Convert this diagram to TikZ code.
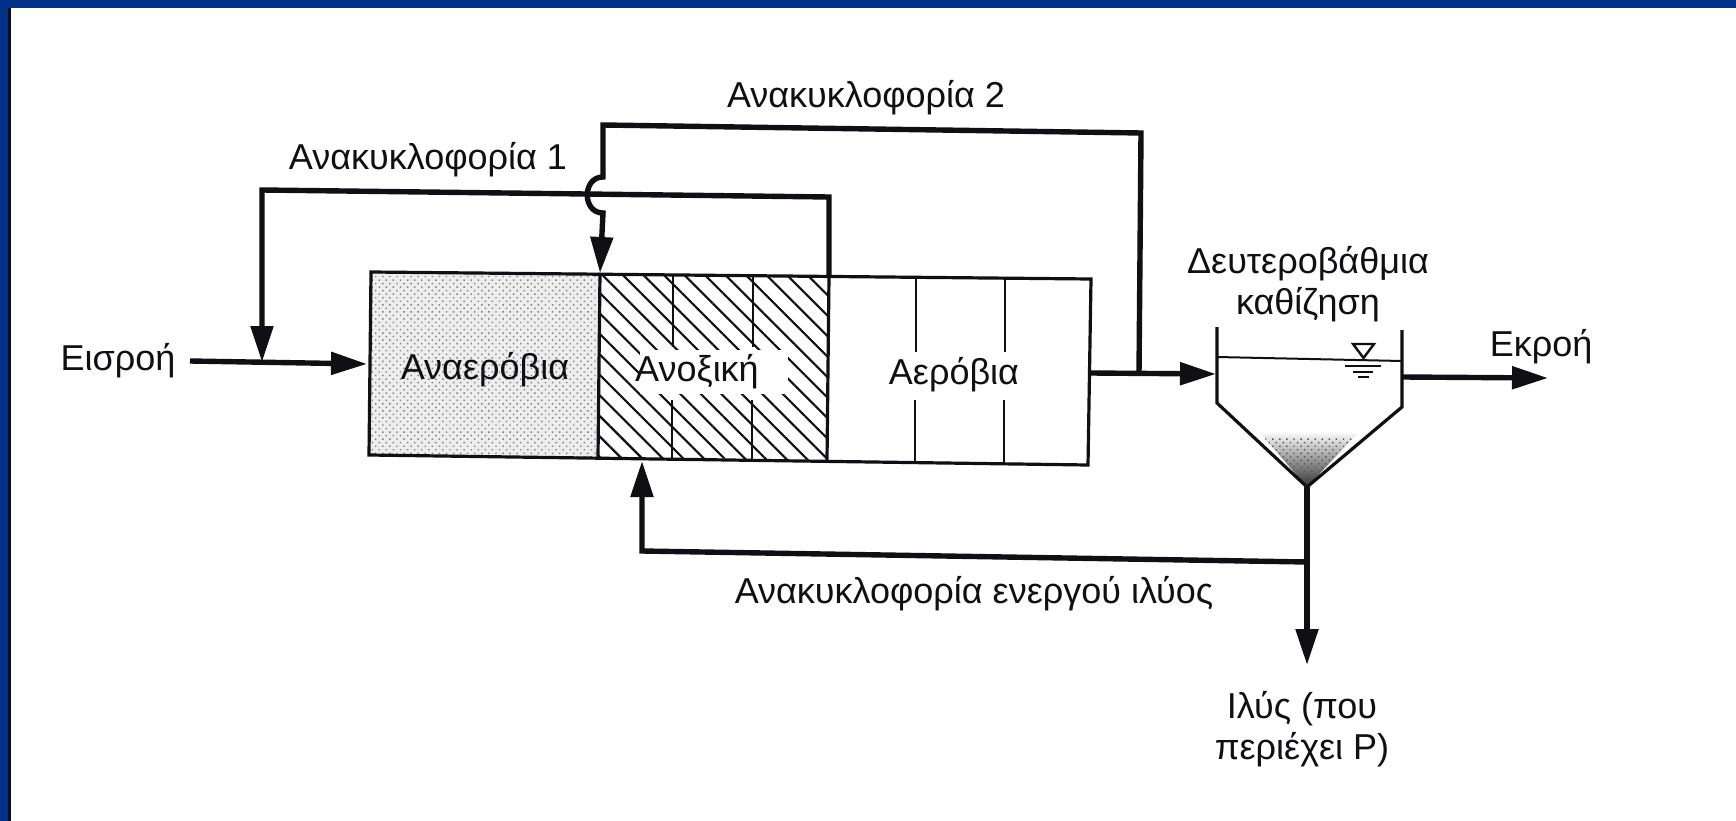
\documentclass[tikz,border=0pt]{standalone}
\usepackage{fontspec}
\setmainfont{Liberation Sans}
\usetikzlibrary{arrows.meta,patterns,patterns.meta}
\definecolor{slideblue}{RGB}{0,48,135}
\definecolor{ink}{RGB}{16,16,20}
\tikzset{
  x=1pt,y=-1pt,
  pipe/.style={draw=ink,line width=5.4pt,line join=miter},
  flow/.style={pipe,-{Triangle[length=36pt,width=22pt]}},
  wall/.style={draw=ink,line width=3.2pt,line join=miter},
  thin wall/.style={draw=ink,line width=2.6pt},
  label/.style={font=\fontsize{36}{41}\selectfont,text=ink,align=center,inner sep=0pt},
}
\begin{document}
\begin{tikzpicture}
\useasboundingbox (0,0) rectangle (1736,821);
\fill[white] (0,0) rectangle (1736,821);
\fill[slideblue] (0,0) rectangle (1736,8);
\fill[slideblue] (0,0) rectangle (8,821);
\fill[ink] (8,8) rectangle (11,821);
% reactor corners
\coordinate (tl) at (371,272);
\coordinate (tm1) at (600,273);
\coordinate (tm2) at (829,276);
\coordinate (tr) at (1091,279);
\coordinate (bl) at (369,455);
\coordinate (bm1) at (598,457);
\coordinate (bm2) at (827,460);
\coordinate (br) at (1088,465);
% zones
\fill[black!7] (tl)--(tm1)--(bm1)--(bl)--cycle;
\fill[pattern={Dots[radius=1pt,distance=5pt,angle=45,xshift=1pt]},pattern color=black!50] (tl)--(tm1)--(bm1)--(bl)--cycle;
\fill[pattern={Lines[angle=-45,distance=14.5pt,line width=2.2pt]},pattern color=ink] (tm1)--(tm2)--(bm2)--(bm1)--cycle;
\fill[white] (640,350) rectangle (788,394);
% baffles
\draw[thin wall] (673,274)--(673,347) (672,400)--(672,458);
\draw[thin wall] (753,275)--(753,347) (752,400)--(752,459);
\draw[thin wall] (916,278)--(916,352) (915,400)--(915,462);
\draw[thin wall] (1005,279)--(1005,352) (1004,400)--(1004,463);
\draw[wall] (tl)--(tr)--(br)--(bl)--cycle;
\draw[wall] (tm1)--(bm1) (tm2)--(bm2);
% settler
\coordinate (sla) at (1217,327);
\coordinate (slb) at (1217,403);
\coordinate (apex) at (1307,487);
\coordinate (srb) at (1402,407);
\coordinate (sra) at (1402,330);
\coordinate (wl) at (1217,357);
\coordinate (wr) at (1402,361);
\begin{scope}
\clip (1260,433)--(1358,433)--(apex)--cycle;
\shade[top color=black!3,bottom color=black!80] (1250,433) rectangle (1365,487);
\fill[pattern={Dots[radius=1pt,distance=5pt,angle=45]},pattern color=black!65] (1250,437) rectangle (1365,487);
\end{scope}
\draw[wall,line join=miter] (sla)--(slb)--(apex)--(srb)--(sra);
\draw[draw=ink,line width=2pt] (wl)--(wr);
\draw[draw=ink,line width=2.4pt] (1353,344)--(1374,344)--(1363.5,358)--cycle;
\draw[draw=ink,line width=2.2pt] (1345,366)--(1381,366) (1353,372)--(1373,372) (1358,377)--(1369,377);
% connectors
\coordinate (inS) at (190,361);
\coordinate (inE) at (367,364);
\coordinate (mix) at (262,362);
\coordinate (r1a) at (262,190);
\coordinate (r1b) at (829,197);
\coordinate (r2s) at (1139,373);
\coordinate (r2c) at (1141,133);
\coordinate (r2d) at (603,125);
\coordinate (r2e) at (603,177);
\coordinate (r2f) at (603,213);
\coordinate (outS) at (1091,373);
\coordinate (outE) at (1216,374);
\coordinate (efS) at (1403,377);
\coordinate (efE) at (1548,378);
\coordinate (slE) at (1307,665);
\coordinate (retJ) at (1307,562);
\coordinate (retC) at (642,551);
\coordinate (retE) at (642,461);
\draw[flow] (inS)--(inE);
\draw[flow] (tm2)--(r1b)--(r1a)--(mix);
\draw[flow] (r2s)--(r2c)--(r2d)--(r2e) .. controls (582,177) and (582,213) .. (r2f)--(tm1);
\draw[flow] (outS)--(outE);
\draw[flow] (efS)--(efE);
\draw[flow] (apex)--(slE);
\draw[flow] (retJ)--(retC)--(retE);
% labels
\node[label] (lin) at (118,361) {Εισροή};
\node[label] (lanaer) at (485,370) {Αναερόβια};
\node[label] (lanox) at (697,372) {Ανοξική};
\node[label] (laer) at (954,375) {Αερόβια};
\node[label] (lr1) at (428,160) {Ανακυκλοφορία 1};
\node[label] (lr2) at (866,98) {Ανακυκλοφορία 2};
\node[label] (lsec) at (1308,284) {Δευτεροβάθμια\\καθίζηση};
\node[label] (lout) at (1541,347) {Εκροή};
\node[label] (lras) at (974,594) {Ανακυκλοφορία ενεργού ιλύος};
\node[label] (lsl) at (1302,729) {Ιλύς (που\\περιέχει P)};
\end{tikzpicture}
\end{document}
